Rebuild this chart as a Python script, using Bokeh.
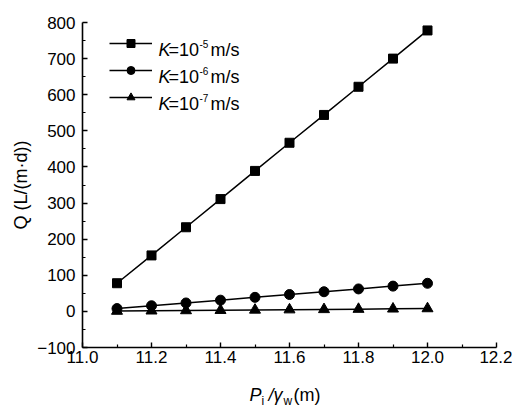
from bokeh.plotting import figure
from bokeh.layouts import column
from bokeh.models import Label, Legend, LegendItem, Range1d, FixedTicker
from bokeh.embed import file_html
from bokeh.resources import INLINE

# ---- data ----
p_ratio = [11.1, 11.2, 11.3, 11.4, 11.5, 11.6, 11.7, 11.8, 11.9, 12.0]
q_k5 = [78, 155, 233, 311, 389, 467, 544, 622, 700, 778]
q_k6 = [7.8, 15.6, 23.3, 31.1, 38.9, 46.7, 54.4, 62.2, 70.0, 77.8]
q_k7 = [0.8, 1.6, 2.3, 3.1, 3.9, 4.7, 5.4, 6.2, 7.0, 7.8]
x_ticks = [11.0, 11.2, 11.4, 11.6, 11.8, 12.0, 12.2]
x_minor = [11.1, 11.3, 11.5, 11.7, 11.9, 12.1]
y_ticks = [-100, 0, 100, 200, 300, 400, 500, 600, 700, 800]
y_minor = [-50, 50, 150, 250, 350, 450, 550, 650, 750]
series_exp = ["-5", "-6", "-7"]

FONT = "Liberation Sans"

p = figure(width=512, height=372, output_backend="svg", toolbar_location=None,
           x_range=Range1d(11.0, 12.2), y_range=Range1d(-100, 800),
           min_border_left=82, min_border_right=16, min_border_top=22,
           min_border_bottom=25)
p.outline_line_color = None
p.grid.visible = False
p.background_fill_color = "white"
p.border_fill_color = "white"

for ax in (p.xaxis[0], p.yaxis[0]):
    ax.axis_line_width = 1.6
    ax.axis_line_color = "black"
    ax.major_tick_in = 5
    ax.major_tick_out = 0
    ax.minor_tick_in = 3
    ax.minor_tick_out = 0
    ax.major_tick_line_width = 1.4
    ax.minor_tick_line_width = 1.2
    ax.major_tick_line_color = "black"
    ax.minor_tick_line_color = "black"
    ax.major_label_text_font = FONT
    ax.major_label_text_font_size = "17px"
    ax.major_label_text_color = "black"

p.xaxis.ticker = FixedTicker(ticks=x_ticks, minor_ticks=x_minor)
p.yaxis.ticker = FixedTicker(ticks=y_ticks, minor_ticks=y_minor)
p.xaxis.major_label_overrides = {v: f"{v:.1f}" for v in x_ticks}
p.xaxis.major_label_standoff = 3
p.yaxis.major_label_standoff = 7

p.yaxis.axis_label = "Q (L/(m·d))"
p.yaxis.axis_label_text_font = FONT
p.yaxis.axis_label_text_font_style = "normal"
p.yaxis.axis_label_text_font_size = "18px"
p.yaxis.axis_label_text_color = "black"
p.yaxis.axis_label_standoff = 3

# ---- series ----
lw = 1.5
l5 = p.line(p_ratio, q_k5, line_color="black", line_width=lw)
m5 = p.scatter(p_ratio, q_k5, marker="square", size=9, color="black")
l6 = p.line(p_ratio, q_k6, line_color="black", line_width=lw)
m6 = p.scatter(p_ratio, q_k6, marker="circle", size=10, color="black")
l7 = p.line(p_ratio, q_k7, line_color="black", line_width=lw)
m7 = p.scatter(p_ratio, q_k7, marker="triangle", size=11, color="black")

legend = Legend(items=[
    LegendItem(label=" ", renderers=[l5, m5]),
    LegendItem(label=" ", renderers=[l6, m6]),
    LegendItem(label=" ", renderers=[l7, m7]),
], location=(27, 240), glyph_width=43, glyph_height=20, label_height=20,
   spacing=7, padding=0, margin=0, label_standoff=0,
   border_line_color=None, background_fill_alpha=0, label_text_font_size="4px")
p.add_layout(legend)

# legend texts (rich text assembled from pieces)
fs = 18
row_base = [298, 271, 244]
for ry, ex in zip(row_base, series_exp):
    common = dict(x_units="screen", y_units="screen", text_font=FONT,
                  text_baseline="alphabetic", text_color="black")
    p.add_layout(Label(x=76, y=ry, text="K", text_font_style="italic",
                       text_font_size=f"{fs}px", **common))
    p.add_layout(Label(x=86, y=ry, text="=10", text_font_size=f"{fs}px", **common))
    p.add_layout(Label(x=117, y=ry + 6, text=ex, text_font_size="10px", **common))
    p.add_layout(Label(x=128, y=ry, text="m/s", text_font_size=f"{fs}px", **common))

# ---- x axis title strip (rich text); its frame is aligned with the plot frame ----
t = figure(width=512, height=35, output_backend="svg", toolbar_location=None,
           x_axis_location=None, y_axis_location=None, min_border=0,
           x_range=Range1d(0, 1), y_range=Range1d(0, 1))
t.outline_line_color = None
t.grid.visible = False
tc = dict(x_units="screen", y_units="screen", text_font=FONT,
          text_baseline="alphabetic", text_color="black")
t.add_layout(Label(x=167, y=13, text="P", text_font_style="italic",
                   text_font_size="18px", **tc))
t.add_layout(Label(x=179, y=7, text="i", text_font_size="12px", **tc))
t.add_layout(Label(x=186, y=13, text="/γ", text_font_style="italic",
                   text_font_size="18px", **tc))
t.add_layout(Label(x=201, y=7, text="w", text_font_size="12px", **tc))
t.add_layout(Label(x=211, y=13, text="(m)", text_font_size="18px", **tc))

layout = column(p, t, spacing=0)
open("out.html", "w").write(file_html(layout, INLINE))
